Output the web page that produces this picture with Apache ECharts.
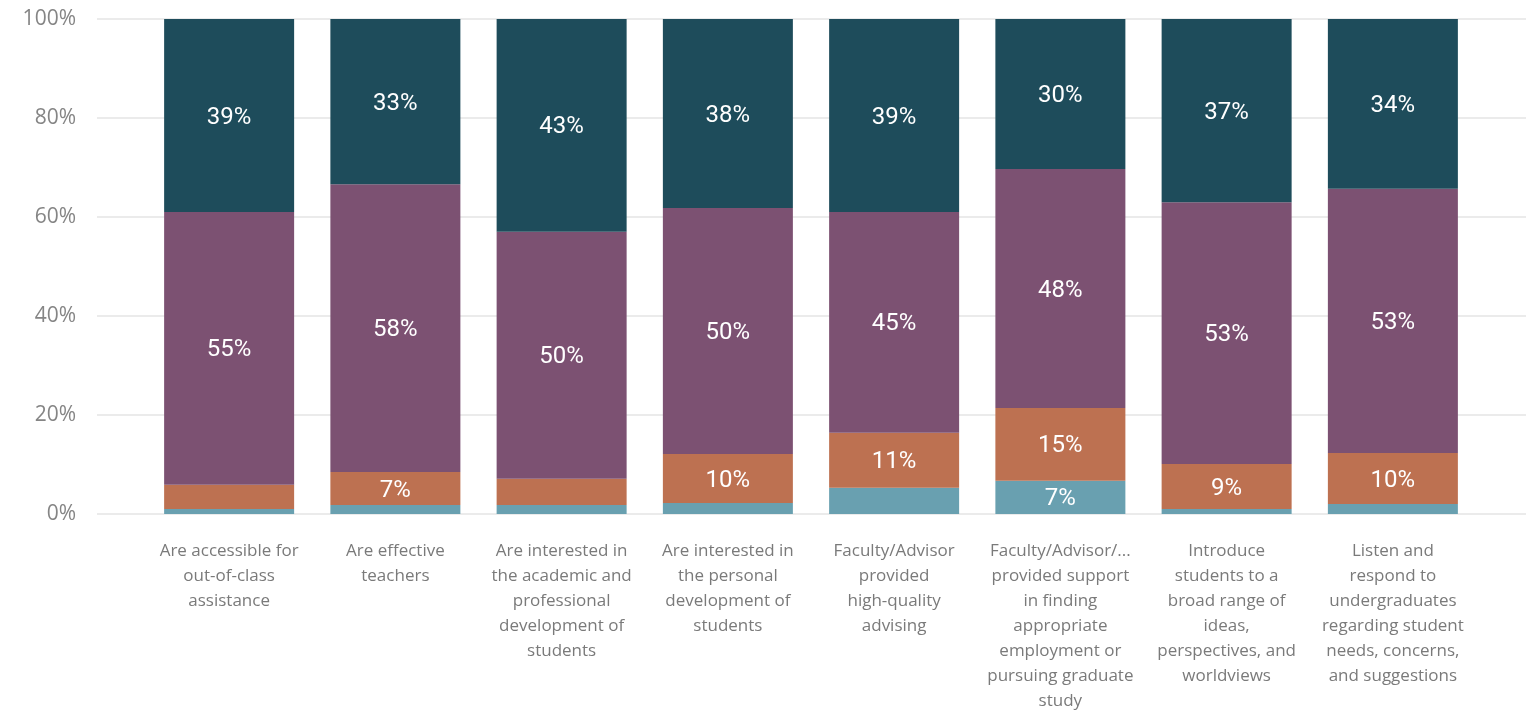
<!DOCTYPE html>
<html>
<head>
<meta charset="utf-8">
<script src="https://cdn.jsdelivr.net/npm/echarts@6/dist/echarts.min.js"></script>
<style>
  html, body { margin: 0; padding: 0; background: #fff; }
  #chart { width: 1536px; height: 710px; }
</style>
</head>
<body>
<div id="chart"></div>
<script>
// categories (line breaks as in the picture)
var categories = [
  'Are accessible for\nout-of-class\nassistance',
  'Are effective\nteachers',
  'Are interested in\nthe academic and\nprofessional\ndevelopment of\nstudents',
  'Are interested in\nthe personal\ndevelopment of\nstudents',
  'Faculty/Advisor\nprovided\nhigh-quality\nadvising',
  'Faculty/Advisor/...\nprovided support\nin finding\nappropriate\nemployment or\npursuing graduate\nstudy',
  'Introduce\nstudents to a\nbroad range of\nideas,\nperspectives, and\nworldviews',
  'Listen and\nrespond to\nundergraduates\nregarding student\nneeds, concerns,\nand suggestions'
]

// shares in percent, bottom to top
var stronglyDisagree = [1.0, 1.8, 1.8, 2.2, 5.3, 6.7, 1.0, 2.0]
var disagree = [4.9, 6.7, 5.3, 9.9, 11.1, 14.7, 9.1, 10.3]
var agree = [55.1, 58.1, 49.9, 49.7, 44.6, 48.3, 52.9, 53.4]
var stronglyAgree = [39.0, 33.4, 43.0, 38.2, 39.0, 30.3, 37.0, 34.3]

var yTicks = [0, 20, 40, 60, 80, 100]

var seriesDefs = [
  { name: 'Strongly disagree', data: stronglyDisagree, color: '#69A0B0' },
  { name: 'Disagree', data: disagree, color: '#BD7151' },
  { name: 'Agree', data: agree, color: '#7C5172' },
  { name: 'Strongly agree', data: stronglyAgree, color: '#1E4C5B' }
]

var myChart = echarts.init(document.getElementById('chart'))

var series = seriesDefs.map(function (s) {
  return {
    name: s.name,
    type: 'bar',
    stack: 'total',
    xAxisIndex: 1,
    yAxisIndex: 1,
    barWidth: 130,
    data: s.data,
    itemStyle: { color: s.color },
    label: {
      show: true,
      position: 'inside',
      offset: [0, 2],
      color: '#ffffff',
      fontFamily: 'Roboto',
      fontSize: 24,
      formatter: function (p) {
        return p.value >= 6 ? Math.round(p.value) + '%' : ''
      }
    }
  }
})

var option = {
  animation: false,
  backgroundColor: '#ffffff',
  grid: [
    { left: 97, right: 10, top: 19, bottom: 196, outerBoundsMode: 'none', containLabel: false },
    { left: 146, right: 60, top: 19, bottom: 196, outerBoundsMode: 'none', containLabel: false }
  ],
  xAxis: [
    { type: 'value', gridIndex: 0, show: false, min: 0, max: 1 },
    {
      type: 'category',
      gridIndex: 1,
      data: categories,
      axisLine: { show: false },
      axisTick: { show: false },
      axisLabel: {
        interval: 0,
        margin: 25,
        color: '#7a7a7a',
        fontFamily: '"Open Sans", sans-serif',
        fontSize: 17,
        lineHeight: 25,
        align: 'center'
      }
    }
  ],
  yAxis: [
    {
      type: 'value',
      gridIndex: 0,
      min: yTicks[0],
      max: yTicks[yTicks.length - 1],
      interval: 20,
      axisLine: { show: false },
      axisTick: { show: false },
      axisLabel: {
        margin: 21,
        color: '#858585',
        fontFamily: '"Open Sans", sans-serif',
        fontSize: 21,
        formatter: '{value}%'
      },
      splitLine: { lineStyle: { color: '#ebebeb', width: 2 } }
    },
    {
      type: 'value',
      gridIndex: 1,
      min: 0,
      max: 100,
      show: false,
      splitLine: { show: false }
    }
  ],
  series: series
}

myChart.setOption(option)
</script>
</body>
</html>
